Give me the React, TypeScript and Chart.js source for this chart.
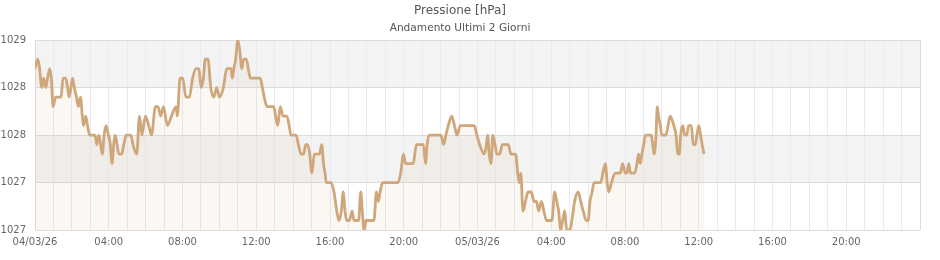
import React, { useEffect, useRef } from "react";
import { Chart, registerables } from "chart.js";

Chart.register(...registerables);

const TITLE = "Pressione [hPa]";
const SUBTITLE = "Andamento Ultimi 2 Giorni";

// minutes since 04/03/26 00:00
const TIME_MIN = [
  0, 9, 15, 22, 28, 35, 41, 48, 53, 59, 67, 78,
  85, 91, 100, 106, 111, 117, 122, 128, 135, 141, 148, 154,
  158, 165, 171, 178, 189, 195, 201, 208, 219, 225, 231, 239,
  245, 251, 256, 261, 267, 273, 282, 289, 297, 306, 312, 319,
  331, 340, 348, 359, 370, 379, 392, 400, 409, 418, 431, 444,
  459, 463, 472, 481, 491, 502, 513, 524, 533, 541, 548, 554,
  563, 572, 582, 591, 600, 613, 624, 631, 638, 642, 647, 653,
  660, 666, 673, 679, 688, 694, 701, 733, 740, 746, 755, 762,
  777, 783, 790, 798, 807, 820, 827, 833, 850, 857, 866, 874,
  881, 887, 894, 901, 909, 918, 926, 933, 939, 944, 948, 964,
  973, 982, 989, 997, 1003, 1009, 1014, 1023, 1032, 1038, 1053, 1060,
  1065, 1071, 1077, 1103, 1111, 1117, 1123, 1131, 1181, 1190, 1199, 1206,
  1231, 1241, 1264, 1271, 1276, 1282, 1321, 1330, 1337, 1345, 1356, 1365,
  1373, 1384, 1430, 1438, 1447, 1462, 1469, 1473, 1478, 1484, 1490, 1497,
  1503, 1512, 1521, 1540, 1549, 1564, 1571, 1576, 1581, 1588, 1596, 1604,
  1615, 1624, 1632, 1639, 1648, 1656, 1665, 1682, 1691, 1698, 1704, 1711,
  1717, 1724, 1730, 1741, 1747, 1756, 1767, 1776, 1784, 1794, 1800, 1806,
  1813, 1819, 1841, 1848, 1856, 1862, 1867, 1876, 1888, 1905, 1912, 1921,
  1926, 1932, 1938, 1951, 1959, 1964, 1970, 1975, 1981, 1986, 2006, 2010,
  2015, 2021, 2025, 2029, 2035, 2040, 2053, 2060, 2067, 2079, 2086, 2092,
  2097, 2101, 2108, 2114, 2121, 2127, 2136, 2142, 2149, 2154, 2160, 2166,
  2171, 2177,
];

// hPa
const PRESSURE = [
  1028.5, 1028.6, 1028.5, 1028.3, 1028.4, 1028.3, 1028.4, 1028.5, 1028.4, 1028.1, 1028.2, 1028.2,
  1028.2, 1028.4, 1028.4, 1028.3, 1028.2, 1028.3, 1028.4, 1028.3, 1028.2, 1028.1, 1028.2, 1028.0,
  1027.9, 1028.0, 1027.9, 1027.8, 1027.8, 1027.8, 1027.7, 1027.8, 1027.6, 1027.8, 1027.9, 1027.8,
  1027.7, 1027.5, 1027.7, 1027.8, 1027.7, 1027.6, 1027.6, 1027.7, 1027.8, 1027.8, 1027.8, 1027.7,
  1027.6, 1028.0, 1027.8, 1028.0, 1027.9, 1027.8, 1028.1, 1028.1, 1028.0, 1028.1, 1027.9, 1028.0,
  1028.1, 1028.0, 1028.4, 1028.4, 1028.2, 1028.2, 1028.4, 1028.5, 1028.5, 1028.3, 1028.4, 1028.6,
  1028.6, 1028.3, 1028.2, 1028.3, 1028.2, 1028.3, 1028.5, 1028.5, 1028.5, 1028.4, 1028.5, 1028.6,
  1028.8, 1028.7, 1028.5, 1028.6, 1028.6, 1028.5, 1028.4, 1028.4, 1028.3, 1028.2, 1028.1, 1028.1,
  1028.1, 1028.0, 1027.9, 1028.1, 1028.0, 1028.0, 1027.9, 1027.8, 1027.8, 1027.7, 1027.6, 1027.6,
  1027.7, 1027.7, 1027.6, 1027.4, 1027.6, 1027.6, 1027.6, 1027.7, 1027.5, 1027.4, 1027.3, 1027.3,
  1027.2, 1027.0, 1026.9, 1027.0, 1027.2, 1027.0, 1026.9, 1026.9, 1027.0, 1026.9, 1026.9, 1027.2,
  1027.0, 1026.8, 1026.9, 1026.9, 1027.2, 1027.1, 1027.2, 1027.3, 1027.3, 1027.4, 1027.6, 1027.5,
  1027.5, 1027.7, 1027.7, 1027.5, 1027.7, 1027.8, 1027.8, 1027.7, 1027.8, 1027.9, 1028.0, 1027.9,
  1027.8, 1027.9, 1027.9, 1027.8, 1027.7, 1027.6, 1027.7, 1027.8, 1027.6, 1027.5, 1027.8, 1027.7,
  1027.6, 1027.6, 1027.7, 1027.7, 1027.6, 1027.6, 1027.4, 1027.3, 1027.4, 1027.0, 1027.1, 1027.2,
  1027.2, 1027.1, 1027.1, 1027.0, 1027.1, 1027.0, 1026.9, 1026.9, 1027.2, 1027.1, 1027.0, 1026.8,
  1026.9, 1027.0, 1026.8, 1026.8, 1026.9, 1027.1, 1027.2, 1027.1, 1027.0, 1026.9, 1026.9, 1027.1,
  1027.2, 1027.3, 1027.3, 1027.4, 1027.5, 1027.3, 1027.2, 1027.3, 1027.4, 1027.4, 1027.5, 1027.4,
  1027.4, 1027.5, 1027.4, 1027.4, 1027.5, 1027.6, 1027.5, 1027.6, 1027.7, 1027.8, 1027.8, 1027.7,
  1027.6, 1027.8, 1028.1, 1028.0, 1027.9, 1027.8, 1027.8, 1027.9, 1028.0, 1027.9, 1027.8, 1027.6,
  1027.6, 1027.8, 1027.9, 1027.8, 1027.8, 1027.9, 1027.9, 1027.7, 1027.7, 1027.8, 1027.9, 1027.8,
  1027.7, 1027.6,
];

const Y_TICKS = [1026.8, 1027.3, 1027.8, 1028.3, 1028.8];
const X_TICK_LABELS = [
  "04/03/26", "04:00", "08:00", "12:00", "16:00", "20:00",
  "05/03/26", "04:00", "08:00", "12:00", "16:00", "20:00",
];
const X_RANGE_MIN = 2880;
const GRID_STEP_MIN = 60;
const LABEL_STEP_MIN = 240;

const LINE_COLOR = "#cfa77a";
const FILL_COLOR = "rgba(207,167,122,0.09)";
const BAND_COLOR = "#f3f3f3";
const HGRID_COLOR = "#dcdcdc";
const VGRID_COLOR = "#e8e8f6";
const TEXT_COLOR = "#666666";

const bandPlugin = {
  id: "bands",
  beforeDraw(chart: any) {
    const { ctx, chartArea, scales } = chart;
    const y = scales.y;
    ctx.save();
    ctx.fillStyle = "#ffffff";
    ctx.fillRect(chartArea.left, chartArea.top, chartArea.right - chartArea.left, chartArea.bottom - chartArea.top);
    const n = Y_TICKS.length;
    for (let i = 0; i < n - 1; i++) {
      const fromTop = n - 2 - i;
      if (fromTop % 2 !== 0) continue;
      const top = y.getPixelForValue(Y_TICKS[i + 1]);
      const bot = y.getPixelForValue(Y_TICKS[i]);
      ctx.fillStyle = BAND_COLOR;
      ctx.fillRect(chartArea.left, top, chartArea.right - chartArea.left, bot - top);
    }
    ctx.restore();
  },
};

export default function App() {
  const ref = useRef<HTMLCanvasElement | null>(null);

  useEffect(() => {
    document.body.style.margin = "0";
    if (!ref.current) return;
    const data = TIME_MIN.map((t, i) => ({ x: t, y: PRESSURE[i] }));
    const chart = new Chart(ref.current, {
      type: "line",
      data: {
        datasets: [
          {
            data,
            borderColor: LINE_COLOR,
            borderWidth: 2.8,
            backgroundColor: FILL_COLOR,
            fill: "start",
            pointRadius: 0,
            cubicInterpolationMode: "monotone",
          },
        ],
      },
      options: {
        animation: false,
        responsive: false,
        devicePixelRatio: 1,
        layout: { padding: { left: 0, right: 20, top: 0, bottom: 6 } },
        plugins: {
          legend: { display: false },
          tooltip: { enabled: false },
          title: {
            display: true,
            text: TITLE,
            color: "#555555",
            font: { family: "'DejaVu Sans'", size: 12, weight: "normal" },
            padding: { top: 4, bottom: 3 },
          },
          subtitle: {
            display: true,
            text: SUBTITLE,
            color: "#555555",
            font: { family: "'DejaVu Sans'", size: 10.6, weight: "normal" },
            padding: { top: 0, bottom: 6 },
          },
        },
        scales: {
          x: {
            type: "linear",
            min: 0,
            max: X_RANGE_MIN,
            afterBuildTicks: (scale: any) => {
              const t = [];
              for (let v = 0; v <= X_RANGE_MIN; v += GRID_STEP_MIN) t.push({ value: v });
              scale.ticks = t;
            },
            ticks: {
              autoSkip: false,
              maxRotation: 0,
              color: TEXT_COLOR,
              padding: 6,
              font: { family: "'DejaVu Sans'", size: 10 },
              callback: (v: any) => {
                const m = Number(v);
                if (m % LABEL_STEP_MIN !== 0) return "";
                return X_TICK_LABELS[m / LABEL_STEP_MIN] ?? "";
              },
            },
            grid: {
              drawTicks: false,
              color: (ctx: any) => {
                const v = ctx.tick ? ctx.tick.value : -1;
                return v === 0 || v === X_RANGE_MIN ? HGRID_COLOR : VGRID_COLOR;
              },
            },
            border: { display: false },
          },
          y: {
            type: "linear",
            min: Y_TICKS[0],
            max: Y_TICKS[Y_TICKS.length - 1],
            afterBuildTicks: (scale: any) => {
              scale.ticks = Y_TICKS.map((v) => ({ value: v }));
            },
            afterFit: (scale: any) => {
              scale.width = 35;
            },
            ticks: {
              color: TEXT_COLOR,
              padding: 9,
              font: { family: "'DejaVu Sans'", size: 10 },
              callback: (v: any) => Math.round(Number(v)).toString(),
            },
            grid: { drawTicks: false, color: HGRID_COLOR },
            border: { display: true, color: HGRID_COLOR },
          },
        },
      },
      plugins: [bandPlugin],
    });
    return () => chart.destroy();
  }, []);

  return (
    <div style={{ width: 940, height: 260 }}>
      <canvas ref={ref} width={940} height={260} />
    </div>
  );
}
